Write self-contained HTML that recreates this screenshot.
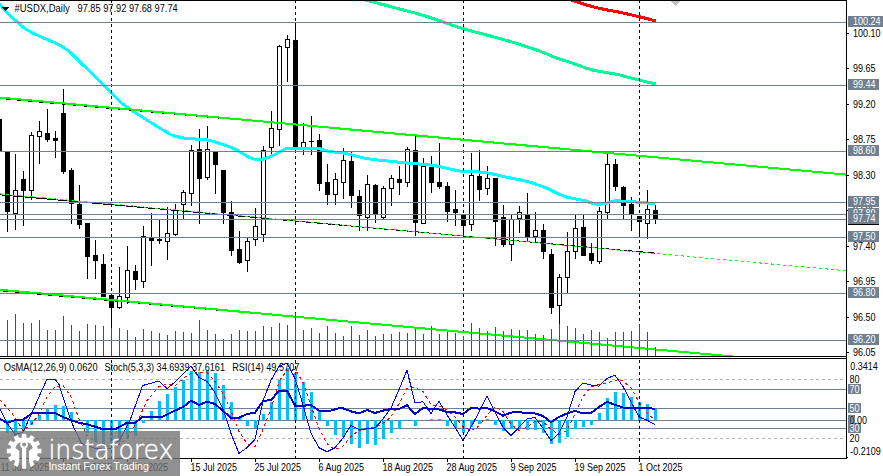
<!DOCTYPE html>
<html><head><meta charset="utf-8"><title>#USDX Daily</title>
<style>html,body{margin:0;padding:0;background:#fff;overflow:hidden}svg{display:block}</style></head>
<body>
<svg width="883" height="476" viewBox="0 0 883 476" shape-rendering="crispEdges" font-family="'Liberation Sans', sans-serif" font-size="9px">
<rect width="883" height="476" fill="#fff"/>
<defs><clipPath id="cm"><rect x="0" y="1" width="846" height="355"/></clipPath><clipPath id="ci"><rect x="0" y="359" width="846" height="99"/></clipPath></defs>
<g clip-path="url(#cm)">
<rect x="-1" y="110" width="1" height="50" fill="#000"/>
<rect x="-3" y="119" width="5" height="32" fill="#000"/>
<rect x="7" y="152" width="1" height="80" fill="#000"/>
<rect x="5" y="152" width="5" height="60" fill="#000"/>
<rect x="15" y="154" width="1" height="76" fill="#000"/>
<rect x="13" y="190" width="5" height="24" fill="#000"/>
<rect x="14" y="191" width="3" height="22" fill="#fff"/>
<rect x="23" y="171" width="1" height="55" fill="#000"/>
<rect x="21" y="179" width="5" height="12" fill="#000"/>
<rect x="31" y="132" width="1" height="68" fill="#000"/>
<rect x="29" y="135" width="5" height="56" fill="#000"/>
<rect x="30" y="136" width="3" height="54" fill="#fff"/>
<rect x="39" y="121" width="1" height="43" fill="#000"/>
<rect x="37" y="131" width="5" height="6" fill="#000"/>
<rect x="38" y="132" width="3" height="4" fill="#fff"/>
<rect x="47" y="109" width="1" height="33" fill="#000"/>
<rect x="45" y="133" width="5" height="7" fill="#000"/>
<rect x="55" y="131" width="1" height="27" fill="#000"/>
<rect x="53" y="138" width="5" height="3" fill="#000"/>
<rect x="63" y="89" width="1" height="85" fill="#000"/>
<rect x="61" y="113" width="5" height="59" fill="#000"/>
<rect x="71" y="168" width="1" height="56" fill="#000"/>
<rect x="69" y="170" width="5" height="34" fill="#000"/>
<rect x="79" y="185" width="1" height="44" fill="#000"/>
<rect x="77" y="204" width="5" height="21" fill="#000"/>
<rect x="87" y="223" width="1" height="56" fill="#000"/>
<rect x="85" y="223" width="5" height="34" fill="#000"/>
<rect x="95" y="240" width="1" height="39" fill="#000"/>
<rect x="93" y="255" width="5" height="6" fill="#000"/>
<rect x="103" y="254" width="1" height="43" fill="#000"/>
<rect x="101" y="264" width="5" height="33" fill="#000"/>
<rect x="111" y="295" width="1" height="33" fill="#000"/>
<rect x="109" y="295" width="5" height="13" fill="#000"/>
<rect x="119" y="267" width="1" height="42" fill="#000"/>
<rect x="117" y="296" width="5" height="12" fill="#000"/>
<rect x="118" y="297" width="3" height="10" fill="#fff"/>
<rect x="127" y="246" width="1" height="58" fill="#000"/>
<rect x="125" y="270" width="5" height="28" fill="#000"/>
<rect x="126" y="271" width="3" height="26" fill="#fff"/>
<rect x="135" y="265" width="1" height="25" fill="#000"/>
<rect x="133" y="271" width="5" height="9" fill="#000"/>
<rect x="143" y="226" width="1" height="62" fill="#000"/>
<rect x="141" y="236" width="5" height="46" fill="#000"/>
<rect x="142" y="237" width="3" height="44" fill="#fff"/>
<rect x="151" y="213" width="1" height="53" fill="#000"/>
<rect x="149" y="238" width="5" height="3" fill="#000"/>
<rect x="159" y="220" width="1" height="24" fill="#000"/>
<rect x="157" y="239" width="5" height="2" fill="#000"/>
<rect x="167" y="207" width="1" height="53" fill="#000"/>
<rect x="165" y="233" width="5" height="9" fill="#000"/>
<rect x="166" y="234" width="3" height="7" fill="#fff"/>
<rect x="175" y="204" width="1" height="32" fill="#000"/>
<rect x="173" y="210" width="5" height="25" fill="#000"/>
<rect x="174" y="211" width="3" height="23" fill="#fff"/>
<rect x="183" y="190" width="1" height="29" fill="#000"/>
<rect x="181" y="192" width="5" height="13" fill="#000"/>
<rect x="182" y="193" width="3" height="11" fill="#fff"/>
<rect x="191" y="145" width="1" height="61" fill="#000"/>
<rect x="189" y="150" width="5" height="44" fill="#000"/>
<rect x="190" y="151" width="3" height="42" fill="#fff"/>
<rect x="199" y="129" width="1" height="95" fill="#000"/>
<rect x="197" y="149" width="5" height="30" fill="#000"/>
<rect x="207" y="126" width="1" height="54" fill="#000"/>
<rect x="205" y="149" width="5" height="29" fill="#000"/>
<rect x="206" y="150" width="3" height="27" fill="#fff"/>
<rect x="215" y="152" width="1" height="42" fill="#000"/>
<rect x="213" y="152" width="5" height="13" fill="#000"/>
<rect x="223" y="170" width="1" height="54" fill="#000"/>
<rect x="221" y="170" width="5" height="43" fill="#000"/>
<rect x="231" y="201" width="1" height="55" fill="#000"/>
<rect x="229" y="212" width="5" height="39" fill="#000"/>
<rect x="239" y="231" width="1" height="33" fill="#000"/>
<rect x="237" y="249" width="5" height="14" fill="#000"/>
<rect x="247" y="238" width="1" height="34" fill="#000"/>
<rect x="245" y="241" width="5" height="20" fill="#000"/>
<rect x="246" y="242" width="3" height="18" fill="#fff"/>
<rect x="255" y="208" width="1" height="38" fill="#000"/>
<rect x="253" y="226" width="5" height="14" fill="#000"/>
<rect x="254" y="227" width="3" height="12" fill="#fff"/>
<rect x="263" y="146" width="1" height="96" fill="#000"/>
<rect x="261" y="150" width="5" height="85" fill="#000"/>
<rect x="262" y="151" width="3" height="83" fill="#fff"/>
<rect x="271" y="111" width="1" height="45" fill="#000"/>
<rect x="269" y="128" width="5" height="20" fill="#000"/>
<rect x="270" y="129" width="3" height="18" fill="#fff"/>
<rect x="279" y="45" width="1" height="101" fill="#000"/>
<rect x="277" y="46" width="5" height="84" fill="#000"/>
<rect x="278" y="47" width="3" height="82" fill="#fff"/>
<rect x="287" y="35" width="1" height="47" fill="#000"/>
<rect x="285" y="39" width="5" height="9" fill="#000"/>
<rect x="286" y="40" width="3" height="7" fill="#fff"/>
<rect x="295" y="22" width="1" height="125" fill="#000"/>
<rect x="293" y="40" width="5" height="107" fill="#000"/>
<rect x="303" y="123" width="1" height="32" fill="#000"/>
<rect x="301" y="142" width="5" height="6" fill="#000"/>
<rect x="302" y="143" width="3" height="4" fill="#fff"/>
<rect x="311" y="116" width="1" height="39" fill="#000"/>
<rect x="309" y="141" width="5" height="1" fill="#000"/>
<rect x="319" y="134" width="1" height="57" fill="#000"/>
<rect x="317" y="140" width="5" height="44" fill="#000"/>
<rect x="327" y="164" width="1" height="41" fill="#000"/>
<rect x="325" y="182" width="5" height="13" fill="#000"/>
<rect x="335" y="173" width="1" height="32" fill="#000"/>
<rect x="333" y="179" width="5" height="16" fill="#000"/>
<rect x="334" y="180" width="3" height="14" fill="#fff"/>
<rect x="343" y="148" width="1" height="51" fill="#000"/>
<rect x="341" y="160" width="5" height="23" fill="#000"/>
<rect x="342" y="161" width="3" height="21" fill="#fff"/>
<rect x="351" y="152" width="1" height="56" fill="#000"/>
<rect x="349" y="161" width="5" height="35" fill="#000"/>
<rect x="359" y="190" width="1" height="41" fill="#000"/>
<rect x="357" y="196" width="5" height="20" fill="#000"/>
<rect x="367" y="175" width="1" height="56" fill="#000"/>
<rect x="365" y="184" width="5" height="34" fill="#000"/>
<rect x="366" y="185" width="3" height="32" fill="#fff"/>
<rect x="375" y="184" width="1" height="39" fill="#000"/>
<rect x="373" y="185" width="5" height="29" fill="#000"/>
<rect x="383" y="186" width="1" height="33" fill="#000"/>
<rect x="381" y="188" width="5" height="30" fill="#000"/>
<rect x="382" y="189" width="3" height="28" fill="#fff"/>
<rect x="391" y="175" width="1" height="31" fill="#000"/>
<rect x="389" y="178" width="5" height="11" fill="#000"/>
<rect x="390" y="179" width="3" height="9" fill="#fff"/>
<rect x="399" y="166" width="1" height="29" fill="#000"/>
<rect x="397" y="179" width="5" height="4" fill="#000"/>
<rect x="407" y="147" width="1" height="40" fill="#000"/>
<rect x="405" y="149" width="5" height="34" fill="#000"/>
<rect x="406" y="150" width="3" height="32" fill="#fff"/>
<rect x="415" y="136" width="1" height="100" fill="#000"/>
<rect x="413" y="150" width="5" height="73" fill="#000"/>
<rect x="423" y="158" width="1" height="66" fill="#000"/>
<rect x="421" y="166" width="5" height="58" fill="#000"/>
<rect x="422" y="167" width="3" height="56" fill="#fff"/>
<rect x="431" y="156" width="1" height="37" fill="#000"/>
<rect x="429" y="167" width="5" height="16" fill="#000"/>
<rect x="439" y="143" width="1" height="46" fill="#000"/>
<rect x="437" y="182" width="5" height="5" fill="#000"/>
<rect x="447" y="182" width="1" height="40" fill="#000"/>
<rect x="445" y="186" width="5" height="26" fill="#000"/>
<rect x="455" y="190" width="1" height="36" fill="#000"/>
<rect x="453" y="209" width="5" height="4" fill="#000"/>
<rect x="463" y="215" width="1" height="20" fill="#000"/>
<rect x="461" y="215" width="5" height="11" fill="#000"/>
<rect x="471" y="153" width="1" height="78" fill="#000"/>
<rect x="469" y="175" width="5" height="50" fill="#000"/>
<rect x="470" y="176" width="3" height="48" fill="#fff"/>
<rect x="479" y="150" width="1" height="51" fill="#000"/>
<rect x="477" y="176" width="5" height="14" fill="#000"/>
<rect x="487" y="166" width="1" height="29" fill="#000"/>
<rect x="485" y="178" width="5" height="11" fill="#000"/>
<rect x="486" y="179" width="3" height="9" fill="#fff"/>
<rect x="495" y="178" width="1" height="68" fill="#000"/>
<rect x="493" y="178" width="5" height="44" fill="#000"/>
<rect x="503" y="205" width="1" height="42" fill="#000"/>
<rect x="501" y="217" width="5" height="28" fill="#000"/>
<rect x="511" y="215" width="1" height="46" fill="#000"/>
<rect x="509" y="219" width="5" height="26" fill="#000"/>
<rect x="510" y="220" width="3" height="24" fill="#fff"/>
<rect x="519" y="206" width="1" height="27" fill="#000"/>
<rect x="517" y="212" width="5" height="7" fill="#000"/>
<rect x="518" y="213" width="3" height="5" fill="#fff"/>
<rect x="527" y="193" width="1" height="49" fill="#000"/>
<rect x="525" y="215" width="5" height="22" fill="#000"/>
<rect x="535" y="212" width="1" height="30" fill="#000"/>
<rect x="533" y="230" width="5" height="7" fill="#000"/>
<rect x="534" y="231" width="3" height="5" fill="#fff"/>
<rect x="543" y="224" width="1" height="35" fill="#000"/>
<rect x="541" y="230" width="5" height="22" fill="#000"/>
<rect x="551" y="249" width="1" height="65" fill="#000"/>
<rect x="549" y="254" width="5" height="54" fill="#000"/>
<rect x="559" y="274" width="1" height="50" fill="#000"/>
<rect x="557" y="277" width="5" height="29" fill="#000"/>
<rect x="558" y="278" width="3" height="27" fill="#fff"/>
<rect x="567" y="232" width="1" height="61" fill="#000"/>
<rect x="565" y="251" width="5" height="27" fill="#000"/>
<rect x="566" y="252" width="3" height="25" fill="#fff"/>
<rect x="575" y="215" width="1" height="44" fill="#000"/>
<rect x="573" y="228" width="5" height="24" fill="#000"/>
<rect x="574" y="229" width="3" height="22" fill="#fff"/>
<rect x="583" y="215" width="1" height="41" fill="#000"/>
<rect x="581" y="227" width="5" height="29" fill="#000"/>
<rect x="591" y="243" width="1" height="21" fill="#000"/>
<rect x="589" y="253" width="5" height="8" fill="#000"/>
<rect x="599" y="207" width="1" height="57" fill="#000"/>
<rect x="597" y="211" width="5" height="51" fill="#000"/>
<rect x="598" y="212" width="3" height="49" fill="#fff"/>
<rect x="607" y="153" width="1" height="66" fill="#000"/>
<rect x="605" y="164" width="5" height="49" fill="#000"/>
<rect x="606" y="165" width="3" height="47" fill="#fff"/>
<rect x="615" y="159" width="1" height="32" fill="#000"/>
<rect x="613" y="164" width="5" height="23" fill="#000"/>
<rect x="623" y="186" width="1" height="33" fill="#000"/>
<rect x="621" y="187" width="5" height="19" fill="#000"/>
<rect x="631" y="197" width="1" height="34" fill="#000"/>
<rect x="629" y="204" width="5" height="10" fill="#000"/>
<rect x="639" y="216" width="1" height="22" fill="#000"/>
<rect x="637" y="216" width="5" height="6" fill="#000"/>
<rect x="647" y="190" width="1" height="49" fill="#000"/>
<rect x="645" y="209" width="5" height="15" fill="#000"/>
<rect x="646" y="210" width="3" height="13" fill="#fff"/>
<rect x="655" y="205" width="1" height="19" fill="#000"/>
<rect x="653" y="210" width="5" height="9" fill="#000"/>
<polyline points="350.0,-4.0 352.0,-3.5 354.0,-3.0 356.0,-2.4 358.0,-1.9 360.0,-1.4 362.0,-0.9 364.0,-0.4 366.0,0.2 368.0,0.7 370.0,1.2 372.0,1.7 374.0,2.3 376.0,2.8 378.0,3.3 380.0,3.8 382.0,4.4 384.0,4.9 386.0,5.4 388.0,5.9 390.0,6.5 392.0,7.0 394.0,7.5 396.0,8.0 398.0,8.6 400.0,9.1 402.0,9.6 404.0,10.1 406.0,10.7 408.0,11.2 410.0,11.7 412.0,12.3 414.0,12.8 416.0,13.3 418.0,13.9 420.0,14.4 422.0,15.0 424.0,15.5 426.0,16.2 428.0,16.8 430.0,17.4 432.0,18.1 434.0,18.8 436.0,19.5 438.0,20.2 440.0,20.9 442.0,21.6 444.0,22.3 446.0,23.0 448.0,23.7 450.0,24.4 452.0,25.1 454.0,25.7 456.0,26.4 458.0,27.1 460.0,27.7 462.0,28.3 464.0,28.9 466.0,29.5 468.0,30.0 470.0,30.6 472.0,31.2 474.0,31.7 476.0,32.2 478.0,32.8 480.0,33.3 482.0,33.8 484.0,34.3 486.0,34.9 488.0,35.4 490.0,35.9 492.0,36.4 494.0,37.0 496.0,37.5 498.0,38.0 500.0,38.6 502.0,39.1 504.0,39.7 506.0,40.3 508.0,40.8 510.0,41.4 512.0,42.0 514.0,42.6 516.0,43.2 518.0,43.9 520.0,44.5 522.0,45.1 524.0,45.8 526.0,46.4 528.0,47.1 530.0,47.7 532.0,48.4 534.0,49.1 536.0,49.8 538.0,50.5 540.0,51.2 542.0,52.0 544.0,52.8 546.0,53.6 548.0,54.5 550.0,55.3 552.0,56.2 554.0,57.0 556.0,57.8 558.0,58.5 560.0,59.2 562.0,59.8 564.0,60.4 566.0,61.0 568.0,61.6 570.0,62.3 572.0,63.0 574.0,63.7 576.0,64.5 578.0,65.2 580.0,65.9 582.0,66.7 584.0,67.4 586.0,68.1 588.0,68.7 590.0,69.3 592.0,69.9 594.0,70.4 596.0,70.8 598.0,71.1 600.0,71.5 602.0,71.8 604.0,72.1 606.0,72.4 608.0,72.8 610.0,73.1 612.0,73.4 614.0,73.8 616.0,74.1 618.0,74.6 620.0,75.0 622.0,75.6 624.0,76.2 626.0,76.8 628.0,77.3 630.0,77.8 632.0,78.3 634.0,78.8 636.0,79.3 638.0,79.8 640.0,80.3 642.0,80.8 644.0,81.3 646.0,81.8 648.0,82.2 650.0,82.7 652.0,83.1 654.0,83.6 655.8,84.0" fill="none" stroke="#00fa9a" stroke-width="3"/>
<polyline points="560.0,-4.0 562.0,-3.2 564.0,-2.5 566.0,-1.8 568.0,-1.0 570.0,-0.3 572.0,0.3 574.0,1.0 576.0,1.7 578.0,2.3 580.0,2.9 582.0,3.6 584.0,4.2 586.0,4.8 588.0,5.4 590.0,5.9 592.0,6.5 594.0,7.0 596.0,7.5 598.0,8.0 600.0,8.5 602.0,8.9 604.0,9.4 606.0,9.7 608.0,10.1 610.0,10.5 612.0,10.8 614.0,11.2 616.0,11.6 618.0,11.9 620.0,12.3 622.0,12.7 624.0,13.2 626.0,13.6 628.0,14.1 630.0,14.5 632.0,15.0 634.0,15.5 636.0,16.0 638.0,16.5 640.0,16.9 642.0,17.4 644.0,17.9 646.0,18.4 648.0,18.9 650.0,19.5 652.0,20.0 654.0,20.5 655.8,21.0" fill="none" stroke="#ff0000" stroke-width="3"/>
<polyline points="-3.0,1.0 -1.0,3.3 1.0,5.7 3.0,8.0 5.0,10.4 7.0,12.7 9.0,14.8 11.0,16.8 13.0,18.5 15.0,20.2 17.0,21.8 19.0,23.5 21.0,25.3 23.0,27.0 25.0,28.5 27.0,29.8 29.0,31.0 31.0,32.1 33.0,33.1 35.0,34.1 37.0,35.0 39.0,36.0 41.0,36.9 43.0,37.8 45.0,38.6 47.0,39.5 49.0,40.3 51.0,41.1 53.0,42.0 55.0,42.9 57.0,43.8 59.0,44.8 61.0,45.9 63.0,47.1 65.0,48.4 67.0,49.8 69.0,51.3 71.0,53.0 73.0,55.0 75.0,57.0 77.0,59.0 79.0,61.0 81.0,62.9 83.0,64.9 85.0,66.8 87.0,68.8 89.0,70.7 91.0,72.7 93.0,74.7 95.0,76.6 97.0,78.6 99.0,80.6 101.0,82.5 103.0,84.5 105.0,86.5 107.0,88.5 109.0,90.5 111.0,92.6 113.0,94.6 115.0,96.6 117.0,98.6 119.0,100.6 121.0,102.5 123.0,104.2 125.0,105.7 127.0,107.1 129.0,108.5 131.0,109.8 133.0,111.1 135.0,112.4 137.0,113.7 139.0,115.0 141.0,116.3 143.0,117.6 145.0,118.8 147.0,120.1 149.0,121.4 151.0,122.6 153.0,123.9 155.0,125.1 157.0,126.4 159.0,127.6 161.0,128.8 163.0,130.0 165.0,131.2 167.0,132.3 169.0,133.5 171.0,134.5 173.0,135.4 175.0,136.1 177.0,136.6 179.0,137.1 181.0,137.5 183.0,137.8 185.0,138.2 187.0,138.4 189.0,138.6 191.0,138.8 193.0,138.9 195.0,139.0 197.0,139.1 199.0,139.2 201.0,139.3 203.0,139.5 205.0,139.7 207.0,139.9 209.0,140.3 211.0,140.7 213.0,141.2 215.0,141.8 217.0,142.4 219.0,143.1 221.0,143.7 223.0,144.5 225.0,145.2 227.0,145.9 229.0,146.6 231.0,147.4 233.0,148.3 235.0,149.2 237.0,150.3 239.0,151.5 241.0,152.6 243.0,153.8 245.0,155.0 247.0,156.1 249.0,157.1 251.0,158.0 253.0,158.7 255.0,159.3 257.0,159.6 259.0,159.7 261.0,159.5 263.0,159.1 265.0,158.6 267.0,157.8 269.0,157.1 271.0,156.2 273.0,155.4 275.0,154.6 277.0,153.5 279.0,152.4 281.0,151.2 283.0,150.0 285.0,149.1 287.0,148.5 289.0,148.2 291.0,148.1 293.0,148.0 295.0,148.0 297.0,148.0 299.0,148.0 301.0,148.0 303.0,148.0 305.0,148.0 307.0,148.0 309.0,148.0 311.0,148.0 313.0,148.1 315.0,148.1 317.0,148.3 319.0,148.6 321.0,149.1 323.0,149.7 325.0,150.3 327.0,150.9 329.0,151.3 331.0,151.6 333.0,151.9 335.0,152.1 337.0,152.3 339.0,152.5 341.0,152.7 343.0,153.0 345.0,153.4 347.0,153.8 349.0,154.2 351.0,154.7 353.0,155.2 355.0,155.8 357.0,156.3 359.0,156.8 361.0,157.3 363.0,157.7 365.0,158.2 367.0,158.5 369.0,158.9 371.0,159.1 373.0,159.4 375.0,159.6 377.0,159.9 379.0,160.1 381.0,160.3 383.0,160.5 385.0,160.8 387.0,161.0 389.0,161.2 391.0,161.4 393.0,161.6 395.0,161.8 397.0,162.0 399.0,162.2 401.0,162.4 403.0,162.6 405.0,162.8 407.0,163.0 409.0,163.1 411.0,163.3 413.0,163.5 415.0,163.6 417.0,163.8 419.0,164.0 421.0,164.1 423.0,164.3 425.0,164.5 427.0,164.7 429.0,164.9 431.0,165.1 433.0,165.4 435.0,165.7 437.0,166.1 439.0,166.5 441.0,166.9 443.0,167.4 445.0,167.8 447.0,168.3 449.0,168.8 451.0,169.3 453.0,169.7 455.0,170.1 457.0,170.5 459.0,170.8 461.0,171.1 463.0,171.4 465.0,171.5 467.0,171.6 469.0,171.7 471.0,171.7 473.0,171.8 475.0,171.8 477.0,171.9 479.0,172.0 481.0,172.1 483.0,172.3 485.0,172.5 487.0,172.8 489.0,173.2 491.0,173.6 493.0,174.1 495.0,174.6 497.0,175.0 499.0,175.5 501.0,176.0 503.0,176.5 505.0,176.9 507.0,177.3 509.0,177.7 511.0,178.1 513.0,178.5 515.0,178.9 517.0,179.3 519.0,179.7 521.0,180.1 523.0,180.6 525.0,181.0 527.0,181.5 529.0,182.0 531.0,182.6 533.0,183.2 535.0,183.9 537.0,184.6 539.0,185.3 541.0,186.0 543.0,186.8 545.0,187.5 547.0,188.3 549.0,189.2 551.0,190.1 553.0,191.1 555.0,192.1 557.0,193.1 559.0,194.1 561.0,195.0 563.0,195.8 565.0,196.5 567.0,197.1 569.0,197.6 571.0,198.0 573.0,198.5 575.0,198.8 577.0,199.2 579.0,199.6 581.0,200.0 583.0,200.4 585.0,200.9 587.0,201.5 589.0,202.1 591.0,202.8 593.0,203.4 595.0,203.9 597.0,204.2 599.0,204.2 601.0,204.1 603.0,203.8 605.0,203.5 607.0,203.0 609.0,202.4 611.0,201.7 613.0,201.1 615.0,200.9 617.0,200.9 619.0,200.9 621.0,201.0 623.0,201.1 625.0,201.1 627.0,201.3 629.0,201.4 631.0,201.6 633.0,201.7 635.0,201.9 637.0,202.1 639.0,202.3 641.0,202.4 643.0,202.6 645.0,202.8 647.0,203.0 649.0,203.2 651.0,203.4 653.0,203.7 655.0,203.9" fill="none" stroke="#00ffff" stroke-width="3"/>
<line x1="111.5" y1="0" x2="111.5" y2="356" stroke="#000" stroke-width="1" stroke-dasharray="3 3"/>
<line x1="295.5" y1="0" x2="295.5" y2="356" stroke="#000" stroke-width="1" stroke-dasharray="3 3"/>
<line x1="463.5" y1="0" x2="463.5" y2="356" stroke="#000" stroke-width="1" stroke-dasharray="3 3"/>
<line x1="639.5" y1="0" x2="639.5" y2="356" stroke="#000" stroke-width="1" stroke-dasharray="3 3"/>
<line x1="0" y1="98.50" x2="660" y2="157.44" stroke="#000" stroke-width="1"/>
<line x1="0" y1="290.70" x2="660" y2="349.64" stroke="#000" stroke-width="1"/>
<line x1="0" y1="97.60" x2="846" y2="174.59" stroke="#00ff00" stroke-width="2"/>
<line x1="0" y1="289.80" x2="846" y2="366.79" stroke="#00ff00" stroke-width="2"/>
<line x1="0" y1="194.80" x2="655" y2="253.09" stroke="#000" stroke-width="1"/>
<line x1="0" y1="193.95" x2="846" y2="270.77" stroke="#00ff00" stroke-width="1" stroke-dasharray="3 3"/>
<rect x="7" y="320" width="1" height="36" fill="#008000"/>
<rect x="15" y="314" width="1" height="42" fill="#008000"/>
<rect x="23" y="323" width="1" height="33" fill="#008000"/>
<rect x="31" y="323" width="1" height="33" fill="#008000"/>
<rect x="39" y="320" width="1" height="36" fill="#008000"/>
<rect x="47" y="330" width="1" height="26" fill="#008000"/>
<rect x="55" y="330" width="1" height="26" fill="#008000"/>
<rect x="63" y="316" width="1" height="40" fill="#008000"/>
<rect x="71" y="325" width="1" height="31" fill="#008000"/>
<rect x="79" y="331" width="1" height="25" fill="#008000"/>
<rect x="87" y="324" width="1" height="32" fill="#008000"/>
<rect x="95" y="325" width="1" height="31" fill="#008000"/>
<rect x="103" y="326" width="1" height="30" fill="#008000"/>
<rect x="111" y="328" width="1" height="28" fill="#008000"/>
<rect x="119" y="328" width="1" height="28" fill="#008000"/>
<rect x="127" y="330" width="1" height="26" fill="#008000"/>
<rect x="135" y="337" width="1" height="19" fill="#008000"/>
<rect x="143" y="329" width="1" height="27" fill="#008000"/>
<rect x="151" y="331" width="1" height="25" fill="#008000"/>
<rect x="159" y="333" width="1" height="23" fill="#008000"/>
<rect x="167" y="335" width="1" height="21" fill="#008000"/>
<rect x="175" y="331" width="1" height="25" fill="#008000"/>
<rect x="183" y="332" width="1" height="24" fill="#008000"/>
<rect x="191" y="333" width="1" height="23" fill="#008000"/>
<rect x="199" y="320" width="1" height="36" fill="#008000"/>
<rect x="207" y="330" width="1" height="26" fill="#008000"/>
<rect x="215" y="334" width="1" height="22" fill="#008000"/>
<rect x="223" y="339" width="1" height="17" fill="#008000"/>
<rect x="231" y="334" width="1" height="22" fill="#008000"/>
<rect x="239" y="330" width="1" height="26" fill="#008000"/>
<rect x="247" y="331" width="1" height="25" fill="#008000"/>
<rect x="255" y="331" width="1" height="25" fill="#008000"/>
<rect x="263" y="326" width="1" height="30" fill="#008000"/>
<rect x="271" y="327" width="1" height="29" fill="#008000"/>
<rect x="279" y="323" width="1" height="33" fill="#008000"/>
<rect x="287" y="325" width="1" height="31" fill="#008000"/>
<rect x="295" y="313" width="1" height="43" fill="#008000"/>
<rect x="303" y="330" width="1" height="26" fill="#008000"/>
<rect x="311" y="328" width="1" height="28" fill="#008000"/>
<rect x="319" y="333" width="1" height="23" fill="#008000"/>
<rect x="327" y="326" width="1" height="30" fill="#008000"/>
<rect x="335" y="333" width="1" height="23" fill="#008000"/>
<rect x="343" y="336" width="1" height="20" fill="#008000"/>
<rect x="351" y="326" width="1" height="30" fill="#008000"/>
<rect x="359" y="335" width="1" height="21" fill="#008000"/>
<rect x="367" y="330" width="1" height="26" fill="#008000"/>
<rect x="375" y="336" width="1" height="20" fill="#008000"/>
<rect x="383" y="334" width="1" height="22" fill="#008000"/>
<rect x="391" y="334" width="1" height="22" fill="#008000"/>
<rect x="399" y="332" width="1" height="24" fill="#008000"/>
<rect x="407" y="333" width="1" height="23" fill="#008000"/>
<rect x="415" y="329" width="1" height="27" fill="#008000"/>
<rect x="423" y="334" width="1" height="22" fill="#008000"/>
<rect x="431" y="326" width="1" height="30" fill="#008000"/>
<rect x="439" y="334" width="1" height="22" fill="#008000"/>
<rect x="447" y="332" width="1" height="24" fill="#008000"/>
<rect x="455" y="333" width="1" height="23" fill="#008000"/>
<rect x="463" y="336" width="1" height="20" fill="#008000"/>
<rect x="471" y="323" width="1" height="33" fill="#008000"/>
<rect x="479" y="328" width="1" height="28" fill="#008000"/>
<rect x="487" y="331" width="1" height="25" fill="#008000"/>
<rect x="495" y="327" width="1" height="29" fill="#008000"/>
<rect x="503" y="331" width="1" height="25" fill="#008000"/>
<rect x="511" y="329" width="1" height="27" fill="#008000"/>
<rect x="519" y="330" width="1" height="26" fill="#008000"/>
<rect x="527" y="330" width="1" height="26" fill="#008000"/>
<rect x="535" y="334" width="1" height="22" fill="#008000"/>
<rect x="543" y="335" width="1" height="21" fill="#008000"/>
<rect x="551" y="329" width="1" height="27" fill="#008000"/>
<rect x="559" y="324" width="1" height="32" fill="#008000"/>
<rect x="567" y="326" width="1" height="30" fill="#008000"/>
<rect x="575" y="328" width="1" height="28" fill="#008000"/>
<rect x="583" y="334" width="1" height="22" fill="#008000"/>
<rect x="591" y="330" width="1" height="26" fill="#008000"/>
<rect x="599" y="332" width="1" height="24" fill="#008000"/>
<rect x="607" y="338" width="1" height="18" fill="#008000"/>
<rect x="615" y="332" width="1" height="24" fill="#008000"/>
<rect x="623" y="332" width="1" height="24" fill="#008000"/>
<rect x="631" y="331" width="1" height="25" fill="#008000"/>
<rect x="639" y="324" width="1" height="32" fill="#008000"/>
<rect x="647" y="332" width="1" height="24" fill="#008000"/>
<rect x="655" y="347" width="1" height="9" fill="#008000"/>
<rect x="0" y="22" width="846" height="1" fill="#6e8099"/>
<rect x="0" y="85" width="846" height="1" fill="#6e8099"/>
<rect x="0" y="151" width="846" height="1" fill="#6e8099"/>
<rect x="0" y="202" width="846" height="1" fill="#6e8099"/>
<rect x="0" y="214" width="846" height="1" fill="#6e8099"/>
<rect x="0" y="219" width="846" height="1" fill="#6e8099"/>
<rect x="0" y="237" width="846" height="1" fill="#6e8099"/>
<rect x="0" y="293" width="846" height="1" fill="#6e8099"/>
<rect x="0" y="340" width="846" height="1" fill="#6e8099"/>
</g>
<polygon points="670,1 680,1 675,6" fill="#c0c0c0"/>
<rect x="0" y="0" width="847" height="1" fill="#000"/>
<rect x="0" y="356" width="847" height="1" fill="#000"/>
<rect x="0" y="358" width="847" height="1" fill="#000"/>
<rect x="0" y="458" width="847" height="1" fill="#000"/>
<rect x="846" y="0" width="1" height="459" fill="#000"/>
<rect x="847" y="457" width="1" height="1" fill="#000"/>
<rect x="847" y="33" width="2" height="1" fill="#000"/>
<text transform="translate(853,37) scale(0.9,1)" font-size="10px" fill="#000">100.10</text>
<rect x="847" y="68" width="2" height="1" fill="#000"/>
<text transform="translate(853,72) scale(0.9,1)" font-size="10px" fill="#000">99.65</text>
<rect x="847" y="104" width="2" height="1" fill="#000"/>
<text transform="translate(853,108) scale(0.9,1)" font-size="10px" fill="#000">99.20</text>
<rect x="847" y="139" width="2" height="1" fill="#000"/>
<text transform="translate(853,143) scale(0.9,1)" font-size="10px" fill="#000">98.75</text>
<rect x="847" y="175" width="2" height="1" fill="#000"/>
<text transform="translate(853,179) scale(0.9,1)" font-size="10px" fill="#000">98.30</text>
<rect x="847" y="210" width="2" height="1" fill="#000"/>
<text transform="translate(853,214) scale(0.9,1)" font-size="10px" fill="#000">97.85</text>
<rect x="847" y="246" width="2" height="1" fill="#000"/>
<text transform="translate(853,250) scale(0.9,1)" font-size="10px" fill="#000">97.40</text>
<rect x="847" y="281" width="2" height="1" fill="#000"/>
<text transform="translate(853,285) scale(0.9,1)" font-size="10px" fill="#000">96.95</text>
<rect x="847" y="317" width="2" height="1" fill="#000"/>
<text transform="translate(853,321) scale(0.9,1)" font-size="10px" fill="#000">96.50</text>
<rect x="847" y="352" width="2" height="1" fill="#000"/>
<text transform="translate(853,356) scale(0.9,1)" font-size="10px" fill="#000">96.05</text>
<rect x="848" y="16" width="35" height="11" fill="#708090"/>
<text transform="translate(853,24.5) scale(0.9,1)" font-size="10px" fill="#fff">100.24</text>
<rect x="848" y="79" width="31" height="11" fill="#708090"/>
<text transform="translate(853,87.5) scale(0.9,1)" font-size="10px" fill="#fff">99.44</text>
<rect x="848" y="145" width="31" height="11" fill="#708090"/>
<text transform="translate(853,153.5) scale(0.9,1)" font-size="10px" fill="#fff">98.60</text>
<rect x="848" y="196" width="31" height="11" fill="#708090"/>
<text transform="translate(853,204.5) scale(0.9,1)" font-size="10px" fill="#fff">97.95</text>
<rect x="848" y="208" width="31" height="11" fill="#708090"/>
<text transform="translate(853,216.5) scale(0.9,1)" font-size="10px" fill="#fff">97.80</text>
<rect x="848" y="231" width="31" height="11" fill="#708090"/>
<text transform="translate(853,239.5) scale(0.9,1)" font-size="10px" fill="#fff">97.50</text>
<rect x="848" y="287" width="31" height="11" fill="#708090"/>
<text transform="translate(853,295.5) scale(0.9,1)" font-size="10px" fill="#fff">96.80</text>
<rect x="848" y="334" width="31" height="11" fill="#708090"/>
<text transform="translate(853,342.5) scale(0.9,1)" font-size="10px" fill="#fff">96.20</text>
<rect x="848" y="213" width="31" height="11" fill="#708090"/>
<text transform="translate(853,221.5) scale(0.9,1)" font-size="10px" fill="#fff">97.74</text>
<rect x="848" y="224" width="31" height="1" fill="#000"/>
<polygon points="2,7 9,7 5.5,11" fill="#000"/>
<text x="14.5" y="12" font-size="10px" textLength="55.3" lengthAdjust="spacingAndGlyphs" fill="#000">#USDX,Daily</text>
<text x="77.5" y="12" font-size="10px" textLength="100.2" lengthAdjust="spacingAndGlyphs" fill="#000">97.85 97.92 97.68 97.74</text>
<rect x="0" y="389" width="846" height="1" fill="#6e8099"/>
<rect x="0" y="408" width="846" height="1" fill="#6e8099"/>
<rect x="0" y="420" width="846" height="1" fill="#6e8099"/>
<rect x="0" y="428" width="846" height="1" fill="#6e8099"/>
<line x1="0" y1="379.5" x2="846" y2="379.5" stroke="#b4b4b4" stroke-width="1" stroke-dasharray="3 3"/>
<line x1="0" y1="438.5" x2="846" y2="438.5" stroke="#b4b4b4" stroke-width="1" stroke-dasharray="3 3"/>
<rect x="6" y="420" width="3" height="13" fill="#00bfff"/>
<rect x="14" y="420" width="3" height="16" fill="#00bfff"/>
<rect x="22" y="420" width="3" height="11" fill="#00bfff"/>
<rect x="30" y="420" width="3" height="5" fill="#00bfff"/>
<rect x="38" y="415" width="3" height="5" fill="#00bfff"/>
<rect x="46" y="409" width="3" height="11" fill="#00bfff"/>
<rect x="54" y="405" width="3" height="15" fill="#00bfff"/>
<rect x="62" y="406" width="3" height="14" fill="#00bfff"/>
<rect x="70" y="412" width="3" height="8" fill="#00bfff"/>
<rect x="86" y="420" width="3" height="13" fill="#00bfff"/>
<rect x="94" y="420" width="3" height="21" fill="#00bfff"/>
<rect x="102" y="420" width="3" height="25" fill="#00bfff"/>
<rect x="110" y="420" width="3" height="25" fill="#00bfff"/>
<rect x="118" y="420" width="3" height="22" fill="#00bfff"/>
<rect x="126" y="420" width="3" height="19" fill="#00bfff"/>
<rect x="134" y="420" width="3" height="16" fill="#00bfff"/>
<rect x="142" y="420" width="3" height="3" fill="#00bfff"/>
<rect x="150" y="411" width="3" height="9" fill="#00bfff"/>
<rect x="158" y="401" width="3" height="19" fill="#00bfff"/>
<rect x="166" y="394" width="3" height="26" fill="#00bfff"/>
<rect x="174" y="387" width="3" height="33" fill="#00bfff"/>
<rect x="182" y="380" width="3" height="40" fill="#00bfff"/>
<rect x="190" y="371" width="3" height="49" fill="#00bfff"/>
<rect x="198" y="372" width="3" height="48" fill="#00bfff"/>
<rect x="206" y="370" width="3" height="50" fill="#00bfff"/>
<rect x="214" y="373" width="3" height="47" fill="#00bfff"/>
<rect x="222" y="385" width="3" height="35" fill="#00bfff"/>
<rect x="230" y="402" width="3" height="18" fill="#00bfff"/>
<rect x="238" y="418" width="3" height="2" fill="#00bfff"/>
<rect x="246" y="420" width="3" height="6" fill="#00bfff"/>
<rect x="254" y="420" width="3" height="8" fill="#00bfff"/>
<rect x="262" y="414" width="3" height="6" fill="#00bfff"/>
<rect x="270" y="402" width="3" height="18" fill="#00bfff"/>
<rect x="278" y="380" width="3" height="40" fill="#00bfff"/>
<rect x="286" y="368" width="3" height="52" fill="#00bfff"/>
<rect x="294" y="373" width="3" height="47" fill="#00bfff"/>
<rect x="302" y="382" width="3" height="38" fill="#00bfff"/>
<rect x="310" y="392" width="3" height="28" fill="#00bfff"/>
<rect x="318" y="411" width="3" height="9" fill="#00bfff"/>
<rect x="326" y="420" width="3" height="6" fill="#00bfff"/>
<rect x="334" y="420" width="3" height="15" fill="#00bfff"/>
<rect x="342" y="420" width="3" height="17" fill="#00bfff"/>
<rect x="350" y="420" width="3" height="24" fill="#00bfff"/>
<rect x="358" y="420" width="3" height="28" fill="#00bfff"/>
<rect x="366" y="420" width="3" height="24" fill="#00bfff"/>
<rect x="374" y="420" width="3" height="25" fill="#00bfff"/>
<rect x="382" y="420" width="3" height="19" fill="#00bfff"/>
<rect x="390" y="420" width="3" height="13" fill="#00bfff"/>
<rect x="398" y="420" width="3" height="9" fill="#00bfff"/>
<rect x="414" y="420" width="3" height="6" fill="#00bfff"/>
<rect x="430" y="419" width="3" height="1" fill="#00bfff"/>
<rect x="438" y="419" width="3" height="1" fill="#00bfff"/>
<rect x="446" y="420" width="3" height="6" fill="#00bfff"/>
<rect x="454" y="420" width="3" height="8" fill="#00bfff"/>
<rect x="462" y="420" width="3" height="13" fill="#00bfff"/>
<rect x="470" y="420" width="3" height="7" fill="#00bfff"/>
<rect x="478" y="420" width="3" height="4" fill="#00bfff"/>
<rect x="486" y="419" width="3" height="1" fill="#00bfff"/>
<rect x="494" y="420" width="3" height="5" fill="#00bfff"/>
<rect x="502" y="420" width="3" height="11" fill="#00bfff"/>
<rect x="510" y="420" width="3" height="9" fill="#00bfff"/>
<rect x="518" y="420" width="3" height="8" fill="#00bfff"/>
<rect x="526" y="420" width="3" height="10" fill="#00bfff"/>
<rect x="534" y="420" width="3" height="10" fill="#00bfff"/>
<rect x="542" y="420" width="3" height="13" fill="#00bfff"/>
<rect x="550" y="420" width="3" height="24" fill="#00bfff"/>
<rect x="558" y="420" width="3" height="23" fill="#00bfff"/>
<rect x="566" y="420" width="3" height="17" fill="#00bfff"/>
<rect x="574" y="420" width="3" height="9" fill="#00bfff"/>
<rect x="582" y="420" width="3" height="7" fill="#00bfff"/>
<rect x="590" y="420" width="3" height="5" fill="#00bfff"/>
<rect x="598" y="413" width="3" height="7" fill="#00bfff"/>
<rect x="606" y="398" width="3" height="22" fill="#00bfff"/>
<rect x="614" y="392" width="3" height="28" fill="#00bfff"/>
<rect x="622" y="393" width="3" height="27" fill="#00bfff"/>
<rect x="630" y="397" width="3" height="23" fill="#00bfff"/>
<rect x="638" y="402" width="3" height="18" fill="#00bfff"/>
<rect x="646" y="404" width="3" height="16" fill="#00bfff"/>
<rect x="654" y="409" width="3" height="11" fill="#00bfff"/>
<polyline points="0.0,399.8 15.0,417.0 23.0,430.4 30.6,425.3 38.7,415.0 47.0,396.7 55.0,386.5 63.0,385.5 71.0,396.7 79.0,419.0 87.0,435.5 102.0,445.6 114.0,447.7 126.4,439.5 138.6,419.0 146.8,400.8 159.0,386.5 167.0,384.0 175.0,386.0 183.0,378.4 191.0,373.3 207.0,372.3 215.0,381.4 223.0,393.7 231.0,411.0 239.0,431.4 247.0,443.6 255.0,446.7 263.0,429.3 271.0,409.0 279.0,381.4 287.0,370.2 295.0,369.2 303.0,382.5 311.0,405.9 319.0,428.3 327.0,443.6 335.0,449.7 343.0,446.0 351.0,436.5 359.0,430.4 375.0,427.3 383.0,423.2 391.0,417.0 399.0,403.9 407.0,388.6 415.0,387.6 423.0,391.6 431.0,404.9 439.0,405.9 447.0,410.0 455.0,417.0 463.0,426.3 471.0,430.4 479.0,426.3 487.0,415.0 495.0,407.0 503.0,411.4 511.0,424.2 519.0,430.4 527.0,427.3 535.0,421.2 543.0,421.8 551.0,429.3 559.0,434.4 567.0,430.4 575.0,414.0 583.0,396.7 591.0,387.0 599.0,384.5 607.0,383.0 615.0,380.0 623.0,380.4 631.0,388.2 639.0,401.8 647.0,413.0 655.0,420.2" fill="none" stroke="#ff0000" stroke-width="1" stroke-linejoin="bevel" stroke-dasharray="3 3"/>
<polyline points="0.0,409.0 7.0,423.0 15.0,434.4 23.0,432.4 32.6,411.0 47.0,379.0 55.0,379.0 59.0,384.5 71.0,421.2 81.5,443.6 95.8,448.7 110.0,448.7 120.0,439.5 130.5,419.0 142.7,385.5 159.0,381.0 167.0,388.6 175.0,382.0 191.0,366.2 199.0,377.4 207.0,381.4 215.0,392.7 223.0,409.0 231.0,433.4 239.0,453.4 247.0,447.7 255.0,439.5 263.0,400.8 271.0,380.4 279.0,366.2 287.0,363.1 295.0,378.4 303.0,404.9 311.0,433.4 319.0,447.7 327.0,451.8 335.0,447.7 343.0,438.0 351.0,425.3 359.0,429.7 375.0,427.9 383.0,419.0 391.0,408.0 399.0,389.6 407.0,370.2 415.0,402.8 423.0,401.8 431.0,413.4 439.0,401.2 447.0,415.0 455.0,427.3 463.0,440.6 471.0,427.3 479.0,412.0 487.0,396.3 495.0,412.0 503.0,427.3 511.0,435.5 519.0,427.3 527.0,419.0 535.0,417.5 543.0,428.3 551.0,440.6 559.0,433.4 567.0,417.0 575.0,391.6 583.0,382.9 591.0,385.1 599.0,386.1 607.0,378.4 615.0,375.3 623.0,386.5 631.0,401.8 639.0,417.0 647.0,420.2 655.0,424.7" fill="none" stroke="#0000ff" stroke-width="1" stroke-linejoin="bevel"/>
<polyline points="0.0,419.0 7.0,422.8 15.0,420.2 23.0,419.8 32.6,413.0 55.0,413.0 63.0,417.0 71.0,420.2 79.0,422.8 87.0,424.2 95.0,426.7 103.0,429.3 115.0,429.3 127.0,422.8 135.0,422.8 143.0,416.5 163.0,416.5 175.0,410.6 183.0,407.0 191.0,400.8 199.0,404.9 207.0,401.8 215.0,403.9 223.0,411.0 231.0,417.7 239.0,417.7 247.0,414.0 255.0,412.6 263.0,401.2 271.0,399.8 279.0,391.0 287.0,390.6 295.0,405.9 311.0,405.3 319.0,410.6 331.0,410.6 341.0,407.5 351.0,411.4 359.0,413.4 367.0,410.0 375.0,413.0 383.0,410.6 391.0,409.0 399.0,409.0 407.0,405.3 415.0,414.0 423.0,408.0 431.0,409.0 439.0,409.4 447.0,412.0 455.0,412.4 463.0,414.0 471.0,408.0 479.0,408.6 487.0,408.0 495.0,411.4 503.0,415.7 511.0,412.6 519.0,412.0 527.0,413.4 535.0,413.4 543.0,416.0 551.0,422.2 559.0,417.0 567.0,413.4 575.0,411.0 583.0,413.4 591.0,413.0 599.0,407.0 607.0,401.8 615.0,404.9 623.0,407.5 631.0,408.0 639.0,408.0 647.0,407.5 655.0,409.0" fill="none" stroke="#0000cd" stroke-width="2"/>
<text x="3.7" y="371" font-size="10px" textLength="94" lengthAdjust="spacingAndGlyphs" fill="#000">OsMA(12,26,9) 0.0620</text>
<text x="104.4" y="371" font-size="10px" textLength="120.6" lengthAdjust="spacingAndGlyphs" fill="#000">Stoch(5,3,3) 34.6939 37.6161</text>
<text x="232.2" y="371" font-size="10px" textLength="67.2" lengthAdjust="spacingAndGlyphs" fill="#000">RSI(14) 49.5707</text>
<line x1="111.5" y1="359" x2="111.5" y2="458" stroke="#000" stroke-width="1" stroke-dasharray="3 3" stroke-dashoffset="5"/>
<line x1="295.5" y1="359" x2="295.5" y2="458" stroke="#000" stroke-width="1" stroke-dasharray="3 3" stroke-dashoffset="5"/>
<line x1="463.5" y1="359" x2="463.5" y2="458" stroke="#000" stroke-width="1" stroke-dasharray="3 3" stroke-dashoffset="5"/>
<line x1="639.5" y1="359" x2="639.5" y2="458" stroke="#000" stroke-width="1" stroke-dasharray="3 3" stroke-dashoffset="5"/>
<text transform="translate(850.3,369.5) scale(0.9,1)" font-size="10px" fill="#000">0.3414</text>
<text transform="translate(849.6,383) scale(0.9,1)" font-size="10px" fill="#000">80</text>
<text transform="translate(849.6,442) scale(0.9,1)" font-size="10px" fill="#000">20</text>
<text transform="translate(850.3,455) scale(0.9,1)" font-size="10px" fill="#000">-0.2109</text>
<rect x="848" y="384" width="13" height="10" fill="#708090"/>
<text transform="translate(849.6,392.5) scale(0.9,1)" font-size="10px" fill="#fff">70</text>
<rect x="848" y="403" width="13" height="10" fill="#708090"/>
<text transform="translate(849.6,411.5) scale(0.9,1)" font-size="10px" fill="#fff">50</text>
<rect x="848" y="415" width="7" height="10" fill="#708090"/>
<text transform="translate(849.6,423.5) scale(0.9,1)" font-size="10px" fill="#fff">0</text>
<rect x="848" y="423" width="13" height="10" fill="#708090"/>
<text transform="translate(849.6,431.5) scale(0.9,1)" font-size="10px" fill="#fff">30</text>
<text transform="translate(849.6,424) scale(0.9,1)" font-size="10px" fill="#000">0.00</text>
<rect x="-1" y="459" width="1" height="3" fill="#000"/>
<text transform="translate(0.5,471) scale(0.9,1)" font-size="10px" fill="#000">11 Jun 2025</text>
<rect x="63" y="459" width="1" height="3" fill="#000"/>
<text transform="translate(62.5,471) scale(0.9,1)" font-size="10px" fill="#000">23 Jun 2025</text>
<rect x="127" y="459" width="1" height="3" fill="#000"/>
<text transform="translate(126.5,471) scale(0.9,1)" font-size="10px" fill="#000">3 Jul 2025</text>
<rect x="191" y="459" width="1" height="3" fill="#000"/>
<text transform="translate(190.5,471) scale(0.9,1)" font-size="10px" fill="#000">15 Jul 2025</text>
<rect x="255" y="459" width="1" height="3" fill="#000"/>
<text transform="translate(254.5,471) scale(0.9,1)" font-size="10px" fill="#000">25 Jul 2025</text>
<rect x="319" y="459" width="1" height="3" fill="#000"/>
<text transform="translate(318.5,471) scale(0.9,1)" font-size="10px" fill="#000">6 Aug 2025</text>
<rect x="383" y="459" width="1" height="3" fill="#000"/>
<text transform="translate(382.5,471) scale(0.9,1)" font-size="10px" fill="#000">18 Aug 2025</text>
<rect x="447" y="459" width="1" height="3" fill="#000"/>
<text transform="translate(446.5,471) scale(0.9,1)" font-size="10px" fill="#000">28 Aug 2025</text>
<rect x="511" y="459" width="1" height="3" fill="#000"/>
<text transform="translate(510.5,471) scale(0.9,1)" font-size="10px" fill="#000">9 Sep 2025</text>
<rect x="575" y="459" width="1" height="3" fill="#000"/>
<text transform="translate(574.5,471) scale(0.9,1)" font-size="10px" fill="#000">19 Sep 2025</text>
<rect x="639" y="459" width="1" height="3" fill="#000"/>
<text transform="translate(638.5,471) scale(0.9,1)" font-size="10px" fill="#000">1 Oct 2025</text>
<rect x="0" y="431" width="180" height="45" fill="rgb(116,116,116)" fill-opacity="0.8"/>
<g shape-rendering="auto">
<mask id="lg" maskUnits="userSpaceOnUse" x="0" y="428" width="50" height="48">
<path fill="#fff" d="M21.77,437.40 L21.93,433.74 L26.27,433.74 L26.43,437.40 L28.88,438.05 L30.85,434.96 L34.61,437.13 L32.92,440.39 L34.71,442.18 L37.97,440.49 L40.14,444.25 L37.05,446.22 L37.70,448.67 L41.36,448.83 L41.36,453.17 L37.70,453.33 L37.05,455.78 L40.14,457.75 L37.97,461.51 L34.71,459.82 L32.92,461.61 L34.61,464.87 L30.85,467.04 L28.88,463.95 L19.32,463.95 L17.35,467.04 L13.59,464.87 L15.28,461.61 L13.49,459.82 L10.23,461.51 L8.06,457.75 L11.15,455.78 L10.50,453.33 L6.84,453.17 L6.84,448.83 L10.50,448.67 L11.15,446.22 L8.06,444.25 L10.23,440.49 L13.49,442.18 L15.28,440.39 L13.59,437.13 L17.35,434.96 L19.32,438.05 Z"/>
<path fill="#000" d="M15.40,448.00 A9.2,9.2 0 0 1 32.80,448.00 L26.20,453.00 L22.00,453.00 Z"/>
<rect fill="#000" x="19.30" y="450.00" width="9.6" height="13"/>
<rect fill="#000" x="18.50" y="462.50" width="11.2" height="9"/>
<rect fill="#fff" x="22.00" y="448.00" width="4.2" height="20.8"/>
<circle fill="#fff" cx="24.1" cy="444.40" r="3.9"/>
<circle fill="#000" cx="24.1" cy="444.40" r="2.0"/>
</mask>
<rect x="0" y="428" width="50" height="48" fill="#fff" mask="url(#lg)"/>
<text x="48.4" y="458.6" font-family="'DejaVu Sans Light', 'DejaVu Sans', 'Liberation Sans', sans-serif" font-weight="200" font-size="26px" fill="#fff" stroke="#fff" stroke-width="0.45" textLength="125" lengthAdjust="spacingAndGlyphs">instaforex</text>
<text x="48.4" y="470.3" font-size="10.2px" fill="#fff" textLength="100.5" lengthAdjust="spacingAndGlyphs">Instant Forex Trading</text>
</g>
</svg>
</body></html>
